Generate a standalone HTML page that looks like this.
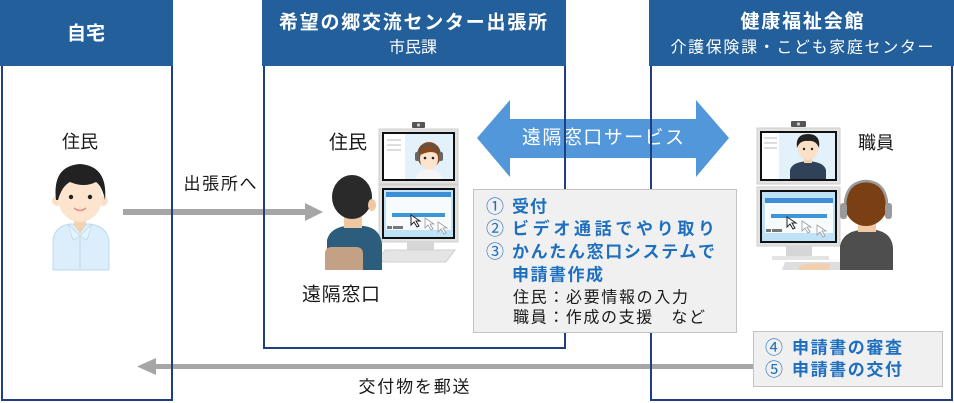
<!DOCTYPE html>
<html><head><meta charset="utf-8"><style>
html,body{margin:0;padding:0;background:#fff;}
svg{display:block;}
text{font-family:"Liberation Sans","Noto Sans CJK JP",sans-serif;}
</style></head><body>
<svg width="954" height="403" viewBox="0 0 954 403" xmlns="http://www.w3.org/2000/svg">
<!-- headers -->
<rect x="0" y="0" width="173" height="66" fill="#225f9b"/>
<rect x="262" y="0" width="304" height="66" fill="#225f9b"/>
<rect x="649" y="0" width="305" height="66" fill="#225f9b"/>
<text x="86" y="34" fill="#fff" font-size="19" font-weight="bold" text-anchor="middle" dominant-baseline="central">自宅</text>
<text x="413" y="23" fill="#fff" font-size="19" font-weight="bold" text-anchor="middle" dominant-baseline="central" textLength="268" lengthAdjust="spacing">希望の郷交流センター出張所</text>
<text x="413" y="48" fill="#fff" font-size="16" text-anchor="middle" dominant-baseline="central">市民課</text>
<text x="802" y="22" fill="#fff" font-size="19" font-weight="bold" text-anchor="middle" dominant-baseline="central" textLength="123" lengthAdjust="spacing">健康福祉会館</text>
<text x="802" y="48" fill="#fff" font-size="16" text-anchor="middle" dominant-baseline="central" textLength="263" lengthAdjust="spacing">介護保険課・こども家庭センター</text>

<!-- arrows -->
<rect x="123" y="209" width="184" height="6" fill="#a6a6a6"/>
<polygon points="305,203 323,212 305,221" fill="#a6a6a6"/>
<rect x="152" y="364" width="602" height="5" fill="#a6a6a6"/>
<polygon points="137,366.5 156,358 156,375" fill="#a6a6a6"/>
<polygon points="477,138 510,100 510,119 696,119 696,100 729,138 696,177 696,158 510,158 510,177" fill="#5197d9"/>
<text x="603" y="138" fill="#fff" font-size="19" text-anchor="middle" dominant-baseline="central" textLength="162" lengthAdjust="spacing">遠隔窓口サービス</text>

<!-- panel borders -->
<g fill="none" stroke="#1f3f80" stroke-width="2">
<polyline points="2,66 2,400 172,400 172,66"/>
<polyline points="264,66 264,348 565,348 565,66"/>
<polyline points="651,66 651,400 952,400 952,66"/>
</g>

<!-- labels -->
<text x="80" y="142" font-size="18" fill="#1a1a1a" text-anchor="middle" dominant-baseline="central">住民</text>
<text x="220" y="184" font-size="17" fill="#1a1a1a" text-anchor="middle" dominant-baseline="central" textLength="73" lengthAdjust="spacing">出張所へ</text>
<text x="348" y="143" font-size="19" fill="#1a1a1a" text-anchor="middle" dominant-baseline="central">住民</text>
<text x="341" y="295" font-size="19" fill="#1a1a1a" text-anchor="middle" dominant-baseline="central" textLength="78" lengthAdjust="spacing">遠隔窓口</text>
<text x="876" y="143" font-size="18" fill="#1a1a1a" text-anchor="middle" dominant-baseline="central">職員</text>
<text x="414" y="387" font-size="17" fill="#1a1a1a" text-anchor="middle" dominant-baseline="central" textLength="111" lengthAdjust="spacing">交付物を郵送</text>

<!-- left resident -->
<g>
<path d="M53,270 L53,240 Q55,226 70,224 L90,224 Q106,226 109,240 L109,270 Z" fill="#dceefb" stroke="#bcd9ef" stroke-width="1"/>
<path d="M74,224 L80,234 L86,224 Z" fill="#f2d3b1"/>
<path d="M68,224 L80,236 L73,240 Z M92,224 L80,236 L87,240 Z" fill="#e9f5fd" stroke="#bcd8ee" stroke-width="0.8"/>
<line x1="80" y1="236" x2="80" y2="270" stroke="#bcd8ee" stroke-width="1"/>
<rect x="74" y="214" width="12" height="12" fill="#f2d3b1"/>
<circle cx="57" cy="201" r="5" fill="#fbe0c8"/>
<circle cx="103" cy="201" r="5" fill="#fbe0c8"/>
<ellipse cx="80" cy="198" rx="22" ry="24" fill="#fde4ce"/>
<path d="M56,200 Q52,166 80,164 Q108,166 105,200 Q102,186 96,182 Q84,188 70,182 Q62,186 58,200 Z" fill="#222"/>
<circle cx="71" cy="197" r="2.2" fill="#222"/>
<circle cx="90" cy="197" r="2.2" fill="#222"/>
<path d="M74,208 Q80,213 86,208" stroke="#e78c8c" stroke-width="1.5" fill="none"/>
</g>

<!-- middle monitors -->
<g>
<rect x="412" y="122" width="13" height="6" rx="1" fill="#555"/>
<circle cx="418.5" cy="125" r="1.6" fill="#ccc"/>
<rect x="379" y="129" width="79" height="55" fill="#e2e2e2" stroke="#cfcfcf"/>
<rect x="382" y="132" width="73" height="49" fill="#111"/>
<rect x="384" y="134" width="21" height="45" fill="#fff"/>
<rect x="405" y="134" width="48" height="45" fill="#e3f1fb"/>
<g stroke="#bbb" stroke-width="1"><line x1="387" y1="140" x2="401" y2="140"/><line x1="387" y1="145" x2="401" y2="145"/><line x1="387" y1="150" x2="401" y2="150"/></g>
<path d="M416,179 Q416,170 429,169 Q442,170 442,179 Z" fill="#f5f5f5"/>
<ellipse cx="429" cy="155" rx="12" ry="13" fill="#8b4a1b"/>
<ellipse cx="429" cy="159" rx="9" ry="11" fill="#fde4ce"/>
<path d="M420,155 Q422,144 430,146 Q437,145 438,155 Q433,149 420,155Z" fill="#8b4a1b"/>
<circle cx="425" cy="158" r="1.3" fill="#222"/><circle cx="433" cy="158" r="1.3" fill="#222"/>
<path d="M418,153 Q429,136 440,153" stroke="#555" stroke-width="2" fill="none"/>
<rect x="415" y="152" width="4" height="9" rx="2" fill="#666"/><rect x="439" y="152" width="4" height="9" rx="2" fill="#666"/>
<rect x="379" y="185" width="79" height="57" fill="#e2e2e2" stroke="#cfcfcf"/>
<rect x="382" y="188" width="73" height="51" fill="#111"/>
<rect x="384" y="190" width="69" height="47" fill="#bfe2f7"/>
<rect x="386" y="192" width="65" height="5" fill="#3b8fd6"/>
<rect x="386" y="197" width="65" height="33" fill="#f8fbfe"/>
<rect x="392" y="213" width="53" height="4" fill="#3d95da"/>
<rect x="387" y="226" width="5" height="3" fill="#777"/><rect x="393" y="226" width="10" height="3" fill="#777"/>
<path d="M411,215 l0,10 l3,-3 l3,5 l2,-1 l-3,-5 l4,0 Z" fill="#fff" stroke="#222" stroke-width="1"/>
<path d="M425,218 l0,10 l3,-3 l3,5 l2,-1 l-3,-5 l4,0 Z" fill="#fff" stroke="#999" stroke-width="0.8"/>
<path d="M438,222 l0,10 l3,-3 l3,5 l2,-1 l-3,-5 l4,0 Z" fill="#fff" stroke="#999" stroke-width="0.8"/>
<rect x="407" y="242" width="27" height="8" fill="#d6d6d6"/>
<polygon points="385,250 455,250 446,262 376,262" fill="#e4e4e4" stroke="#d0d0d0"/>
</g>
<!-- middle person back -->
<g>
<path d="M327,270 L327,240 Q330,228 346,226 L364,226 Q380,228 382,244 L382,270 Z" fill="#2c5d7d"/>
<rect x="344" y="214" width="18" height="14" fill="#f0c8a2"/>
<ellipse cx="352" cy="197" rx="20" ry="22" fill="#2a2a2a"/>
<ellipse cx="372" cy="205" rx="4" ry="6" fill="#f0c8a2"/>
<path d="M325,270 L325,254 Q325,247 332,247 L356,247 Q363,247 363,254 L363,270 Z" fill="#c4a184"/>
</g>

<!-- right monitors -->
<g>
<rect x="791" y="121" width="15" height="6" rx="1" fill="#555"/>
<circle cx="798.5" cy="124" r="1.6" fill="#ccc"/>
<rect x="757" y="128" width="83" height="56" fill="#e2e2e2" stroke="#cfcfcf"/>
<rect x="760" y="131" width="77" height="50" fill="#111"/>
<rect x="762" y="133" width="17" height="46" fill="#fff"/>
<rect x="779" y="133" width="56" height="46" fill="#e3f1fb"/>
<g stroke="#bbb" stroke-width="1"><line x1="764" y1="138" x2="777" y2="138"/><line x1="764" y1="143" x2="777" y2="143"/><line x1="764" y1="148" x2="777" y2="148"/></g>
<path d="M790,179 L790,170 Q792,162 808,161 Q824,162 826,170 L826,179 Z" fill="#2f4257"/>
<rect x="804" y="156" width="8" height="7" fill="#f2cfae"/>
<ellipse cx="808" cy="148" rx="10" ry="12" fill="#fbe0c8"/>
<path d="M797,148 Q795,134 808,134 Q821,134 819,148 Q816,140 808,141 Q800,140 797,148Z" fill="#222"/>
<circle cx="804" cy="149" r="1.2" fill="#222"/><circle cx="812" cy="149" r="1.2" fill="#222"/>
<rect x="757" y="187" width="83" height="59" fill="#e2e2e2" stroke="#cfcfcf"/>
<rect x="760" y="190" width="77" height="53" fill="#111"/>
<rect x="762" y="192" width="73" height="49" fill="#bfe2f7"/>
<rect x="765" y="198" width="68" height="5" fill="#3b8fd6"/>
<rect x="765" y="203" width="68" height="30" fill="#f8fbfe"/>
<rect x="771" y="214" width="56" height="4" fill="#3d95da"/>
<rect x="766" y="229" width="5" height="3" fill="#777"/><rect x="772" y="229" width="10" height="3" fill="#777"/>
<path d="M787,217 l0,10 l3,-3 l3,5 l2,-1 l-3,-5 l4,0 Z" fill="#fff" stroke="#222" stroke-width="1"/>
<path d="M802,221 l0,10 l3,-3 l3,5 l2,-1 l-3,-5 l4,0 Z" fill="#fff" stroke="#999" stroke-width="0.8"/>
<path d="M817,225 l0,10 l3,-3 l3,5 l2,-1 l-3,-5 l4,0 Z" fill="#fff" stroke="#999" stroke-width="0.8"/>
<rect x="786" y="246" width="26" height="10" fill="#d6d6d6"/>
<rect x="772" y="256" width="57" height="4" fill="#e4e4e4"/>
<polygon points="785,262 840,262 840,270 782,270" fill="#dedede"/>
<path d="M798,266 Q810,262 830,264 L830,270 L800,270 Z" fill="#f2cfae"/>
</g>
<!-- right staff back -->
<g>
<path d="M840,270 L840,246 Q843,232 860,230 L876,230 Q892,233 893,248 L893,270 Z" fill="#4e4e4e"/>
<rect x="858" y="220" width="18" height="12" fill="#f0c8a2"/>
<ellipse cx="866" cy="203" rx="22" ry="23" fill="#7a3f12"/>
<path d="M845,205 Q846,182 866,181 Q886,182 887,205" stroke="#9a9a9a" stroke-width="2.5" fill="none"/>
<rect x="840" y="203" width="7" height="16" rx="3" fill="#9a9a9a"/>
<rect x="885" y="203" width="7" height="16" rx="3" fill="#9a9a9a"/>
</g>

<!-- boxes -->
<rect x="473.5" y="189.5" width="263" height="143" fill="#f0f0f0" stroke="#c4c4c4"/>
<g font-size="18" fill="#1f6fbf" dominant-baseline="central">
<text x="486" y="207">①</text><text x="486" y="229">②</text><text x="486" y="252">③</text>
</g>
<g font-size="17" font-weight="bold" fill="#1f6fbf" dominant-baseline="central">
<text x="512" y="207" textLength="35" lengthAdjust="spacing">受付</text>
<text x="512" y="229" textLength="203" lengthAdjust="spacing">ビデオ通話でやり取り</text>
<text x="512" y="252" textLength="203" lengthAdjust="spacing">かんたん窓口システムで</text>
<text x="512" y="275" textLength="91" lengthAdjust="spacing">申請書作成</text>
</g>
<g font-size="16" fill="#1a1a1a" dominant-baseline="central">
<text x="513" y="298" textLength="175" lengthAdjust="spacing">住民：必要情報の入力</text>
<text x="513" y="318" textLength="192" lengthAdjust="spacing">職員：作成の支援　など</text>
</g>
<rect x="753.5" y="331.5" width="189" height="55" fill="#f0f0f0" stroke="#c4c4c4"/>
<g font-size="18" fill="#1f6fbf" dominant-baseline="central">
<text x="765" y="348">④</text><text x="765" y="370">⑤</text>
</g>
<g font-size="17" font-weight="bold" fill="#1f6fbf" dominant-baseline="central">
<text x="792" y="348" textLength="110" lengthAdjust="spacing">申請書の審査</text>
<text x="792" y="370" textLength="110" lengthAdjust="spacing">申請書の交付</text>
</g>
</svg>
</body></html>
